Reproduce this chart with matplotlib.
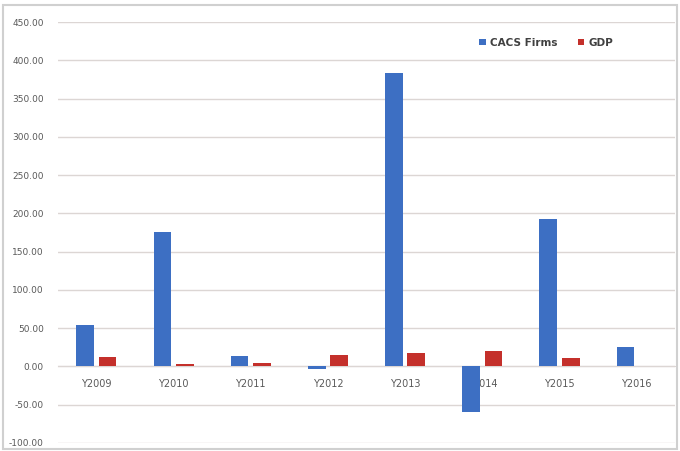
import matplotlib
matplotlib.use("Agg")
import matplotlib.pyplot as plt
import numpy as np
from matplotlib.patches import Rectangle

years = ["Y2009", "Y2010", "Y2011", "Y2012", "Y2013", "Y2014", "Y2015", "Y2016"]
cacs_firms = [54.0, 175.0, 13.5, -4.0, 383.0, -60.0, 192.5, 25.0]
gdp = [12.0, 3.5, 4.3, 14.7, 18.0, 19.6, 10.8, 0.0]
yticks = [-100, -50, 0, 50, 100, 150, 200, 250, 300, 350, 400, 450]

BLUE = "#3d6fc3"
RED = "#c4302b"
GRID = "#dcd6d4"
TXT = "#595959"

fig = plt.figure(figsize=(6.8, 4.51), dpi=100, facecolor="white")
fig.patches.append(Rectangle((0.004, 0.004), 0.992, 0.985, transform=fig.transFigure,
                             fill=False, edgecolor="#d0d0d0", linewidth=1.5))
ax = fig.add_axes([0.085, 0.018, 0.908, 0.933])

x = np.arange(len(years))
w = 0.23
ax.bar(x - 0.145, cacs_firms, w, color=BLUE, label="CACS Firms", zorder=3)
ax.bar(x + 0.145, gdp, w, color=RED, label="GDP", zorder=3)

ax.set_ylim(-100, 450)
ax.set_xlim(-0.5, len(years) - 0.5)
ax.set_yticks(yticks)
ax.set_yticklabels([f"{v:.2f}" for v in yticks])
ax.set_xticks(x)
ax.set_xticklabels(years)
ax.yaxis.grid(True, color=GRID, linewidth=1.0)
ax.set_axisbelow(True)

for s in ["top", "right", "left"]:
    ax.spines[s].set_visible(False)
ax.spines["bottom"].set_position(("data", 0))
ax.spines["bottom"].set_color(GRID)
ax.tick_params(axis="both", length=0, labelcolor=TXT)
ax.tick_params(axis="x", pad=9, labelsize=7)
ax.tick_params(axis="y", pad=10, labelsize=6.5)

ax.legend(loc="upper right", bbox_to_anchor=(0.915, 0.985), ncol=2, frameon=False,
          prop={"size": 7.5, "weight": "bold"}, handlelength=0.6, handleheight=0.6,
          columnspacing=2.0, handletextpad=0.4, labelcolor="#404040")

fig.savefig("out.png", dpi=100)
